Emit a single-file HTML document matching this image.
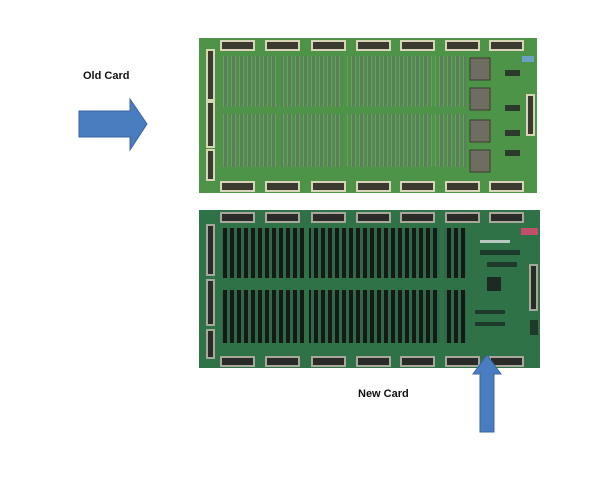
<!DOCTYPE html>
<html><head><style>
html,body{margin:0;padding:0;background:#fff;width:600px;height:490px;overflow:hidden}
.t{position:absolute;font-family:"Liberation Sans",sans-serif;font-size:11px;font-weight:bold;color:#111}
</style></head><body>
<div class="t" style="left:83px;top:70px">Old Card</div>
<div class="t" style="left:358px;top:388px">New Card</div>
<svg width="600" height="490" style="position:absolute;left:0;top:0">
<defs>
<pattern id="po" x="222" y="0" width="8" height="10" patternUnits="userSpaceOnUse">
<rect width="8" height="10" fill="#4f8f47"/><rect x="1" width="5" height="10" fill="#6f9a6a"/><rect x="2" y="0" width="3" height="10" fill="#5a8059"/></pattern>
<pattern id="pn" x="222" y="0" width="7" height="10" patternUnits="userSpaceOnUse">
<rect width="7" height="10" fill="#2e6a48"/><rect x="1" width="4" height="10" fill="#151a17"/></pattern>
</defs>
<!-- old board -->
<rect x="199" y="38" width="338" height="155" fill="#4e9448"/>
<g fill="#3a3a30" stroke="#d8d4b8" stroke-width="2">
<rect x="221" y="41" width="33" height="9"/><rect x="266" y="41" width="33" height="9"/><rect x="312" y="41" width="33" height="9"/><rect x="357" y="41" width="33" height="9"/><rect x="401" y="41" width="33" height="9"/><rect x="446" y="41" width="33" height="9"/><rect x="490" y="41" width="33" height="9"/>
<rect x="221" y="182" width="33" height="9"/><rect x="266" y="182" width="33" height="9"/><rect x="312" y="182" width="33" height="9"/><rect x="357" y="182" width="33" height="9"/><rect x="401" y="182" width="33" height="9"/><rect x="446" y="182" width="33" height="9"/><rect x="490" y="182" width="33" height="9"/>
<rect x="207" y="50" width="7" height="50"/><rect x="207" y="102" width="7" height="45"/><rect x="207" y="150" width="7" height="30"/>
<rect x="527" y="95" width="7" height="40"/>
</g>
<rect x="222" y="56" width="244" height="51" fill="url(#po)"/>
<rect x="222" y="114" width="244" height="53" fill="url(#po)"/>
<rect x="278" y="56" width="3" height="111" fill="#4e9448"/><rect x="343" y="56" width="4" height="111" fill="#4e9448"/><rect x="432" y="56" width="3" height="111" fill="#4e9448"/>
<g fill="#6d6e60" stroke="#3a3a32"><rect x="470" y="58" width="20" height="22"/><rect x="470" y="88" width="20" height="22"/><rect x="470" y="120" width="20" height="22"/><rect x="470" y="150" width="20" height="22"/></g>
<g fill="#2b3a2c"><rect x="505" y="70" width="15" height="6"/><rect x="505" y="105" width="15" height="6"/><rect x="505" y="130" width="15" height="6"/><rect x="505" y="150" width="15" height="6"/></g>
<rect x="522" y="56" width="12" height="6" fill="#6aa0c0"/>
<!-- new board -->
<rect x="199" y="210" width="341" height="158" fill="#2f7248"/>
<g fill="#2a2a28" stroke="#a8a89a" stroke-width="2">
<rect x="221" y="213" width="33" height="9"/><rect x="266" y="213" width="33" height="9"/><rect x="312" y="213" width="33" height="9"/><rect x="357" y="213" width="33" height="9"/><rect x="401" y="213" width="33" height="9"/><rect x="446" y="213" width="33" height="9"/><rect x="490" y="213" width="33" height="9"/>
<rect x="221" y="357" width="33" height="9"/><rect x="266" y="357" width="33" height="9"/><rect x="312" y="357" width="33" height="9"/><rect x="357" y="357" width="33" height="9"/><rect x="401" y="357" width="33" height="9"/><rect x="446" y="357" width="33" height="9"/><rect x="490" y="357" width="33" height="9"/>
<rect x="207" y="225" width="7" height="50"/><rect x="207" y="280" width="7" height="45"/><rect x="207" y="330" width="7" height="28"/>
<rect x="530" y="265" width="7" height="45"/>
</g>
<rect x="222" y="228" width="244" height="50" fill="url(#pn)"/>
<rect x="222" y="290" width="244" height="53" fill="url(#pn)"/>
<rect x="304" y="228" width="5" height="115" fill="#2f7248"/><rect x="440" y="228" width="4" height="115" fill="#2f7248"/>
<rect x="487" y="277" width="14" height="14" fill="#1c2a22"/>
<rect x="521" y="228" width="17" height="7" fill="#c0506a"/>
<rect x="480" y="240" width="30" height="3" fill="#b8c8c0"/>
<g fill="#1e3a2a"><rect x="480" y="250" width="40" height="5"/><rect x="487" y="262" width="30" height="5"/><rect x="475" y="310" width="30" height="4"/><rect x="475" y="322" width="30" height="4"/><rect x="530" y="320" width="8" height="15"/></g>
<!-- arrows -->
<polygon points="79,111 130,111 130,99 147,124 130,150 130,137 79,137" fill="#4a7cc0" stroke="#3a65a0" stroke-width="1"/>
<polygon points="487,355 501,374 494,374 494,432 480,432 480,374 473,374" fill="#4a7cc0" stroke="#3a65a0" stroke-width="1"/>
</svg>
</body></html>
